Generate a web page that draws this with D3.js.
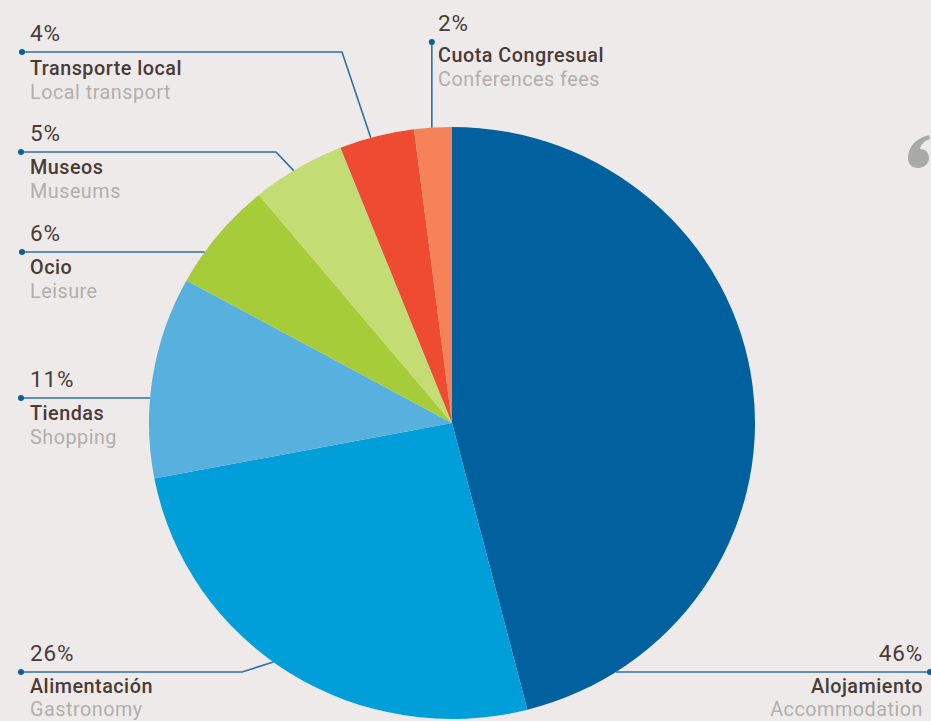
<!DOCTYPE html>
<html>
<head>
<meta charset="utf-8">
<script src="https://cdn.jsdelivr.net/npm/d3@7/dist/d3.min.js"></script>
<style>
  html, body { margin: 0; padding: 0; background: #edeae9; overflow: hidden; }
  svg { display: block; }
  text { font-family: Roboto, "Open Sans", sans-serif; }
</style>
</head>
<body>
<svg id="chart" width="931" height="721"></svg>
<script>
// Spending breakdown (percent of total), clockwise from 12 o'clock
const categories = ["Alojamiento", "Alimentación", "Tiendas", "Ocio", "Museos", "Transporte local", "Cuota Congresual"];
const categoriesEn = ["Accommodation", "Gastronomy", "Shopping", "Leisure", "Museums", "Local transport", "Conferences fees"];
const values = [46, 26, 11, 6, 5, 4, 2];
const colors = ["#00619e", "#009fd9", "#58b0df", "#a6cd39", "#c3dc73", "#ef4a32", "#f58259"];

const W = 931, H = 721;
const cx = 452, cy = 423;
const ry = 296, rx = 303;   // pie is drawn slightly wider than tall

const svg = d3.select("#chart");

const pie = d3.pie().sort(null).value(d => d.value);
const arcs = pie(values.map((v, i) => ({ value: v, i })));
const arc = d3.arc().innerRadius(0).outerRadius(ry);

const pieG = svg.append("g")
  .attr("transform", `translate(${cx},${cy}) scale(${rx / ry},1)`);

pieG.selectAll("path")
  .data(arcs)
  .join("path")
  .attr("d", arc)
  .attr("fill", d => colors[d.data.i]);

// point on the pie rim at a given angle (radians, clockwise from north)
function rim(a) {
  return [cx + rx * Math.sin(a), cy - ry * Math.cos(a)];
}
// x on the rim for a horizontal line at y, left or right side
function rimX(y, side) {
  const t = (y - cy) / ry;
  return cx + side * rx * Math.sqrt(Math.max(0, 1 - t * t));
}

// Label layout: line y, dot x, text x, anchor, text offsets, and how the leader meets the pie
const layout = [
  { i: 0, lineY: 672, dotX: 930, textX: 923, anchor: "end",   mode: "h", side: 1, nameDy: 21, enDy: 22.5 },
  { i: 1, lineY: 672, dotX: 21,  textX: 30,  anchor: "start", mode: "elbow", elbowX: 242, frac: 0.54, nameDy: 21, enDy: 22.5 },
  { i: 2, lineY: 398, dotX: 21,  textX: 30,  anchor: "start", mode: "h", side: -1, nameDy: 22, enDy: 23.5 },
  { i: 3, lineY: 252, dotX: 22,  textX: 30,  anchor: "start", mode: "h", side: -1, nameDy: 22, enDy: 23.5 },
  { i: 4, lineY: 152, dotX: 21,  textX: 30,  anchor: "start", mode: "elbow", elbowX: 276, frac: 0.45, nameDy: 22, enDy: 23.5 },
  { i: 5, lineY: 52,  dotX: 22,  textX: 30,  anchor: "start", mode: "elbow", elbowX: 342, frac: 0.42, nameDy: 23, enDy: 23.5 },
  { i: 6, lineY: 42,  dotX: null, textX: 438, anchor: "start", mode: "v", frac: 0.47, nameDy: 20, enDy: 23.5 }
];

const lineColor = "#2f6fa7";
const leaders = svg.append("g");
const labels = svg.append("g");

layout.forEach(L => {
  const a = arcs[L.i];
  let pts, dot;
  if (L.mode === "h") {
    const x = rimX(L.lineY, L.side);
    pts = [[L.dotX, L.lineY], [x, L.lineY]];
    dot = [L.dotX, L.lineY];
  } else if (L.mode === "elbow") {
    const ang = a.startAngle + L.frac * (a.endAngle - a.startAngle);
    pts = [[L.dotX, L.lineY], [L.elbowX, L.lineY], rim(ang)];
    dot = [L.dotX, L.lineY];
  } else {
    const ang = a.startAngle + L.frac * (a.endAngle - a.startAngle);
    const p = rim(ang);
    pts = [[p[0], L.lineY], p];
    dot = [p[0], L.lineY];
  }
  leaders.append("path")
    .attr("d", d3.line()(pts))
    .attr("fill", "none")
    .attr("stroke", lineColor)
    .attr("stroke-width", 1.6);
  leaders.append("circle")
    .attr("cx", dot[0]).attr("cy", dot[1]).attr("r", 3)
    .attr("fill", "#0d5f9c");

  const pctY = L.lineY - 11;
  const nameY = L.lineY + L.nameDy;
  const enY = nameY + L.enDy;

  labels.append("text")
    .attr("x", L.textX).attr("y", pctY)
    .attr("text-anchor", L.anchor)
    .attr("font-size", 22.5).attr("letter-spacing", 0.8).attr("fill", "#4a3b36")
    .text(values[L.i] + "%");
  labels.append("text")
    .attr("x", L.textX).attr("y", nameY)
    .attr("text-anchor", L.anchor)
    .attr("font-size", 19.8).attr("font-weight", 500).attr("letter-spacing", 0.5)
    .attr("fill", "#4a3b36")
    .text(categories[L.i]);
  labels.append("text")
    .attr("x", L.textX).attr("y", enY)
    .attr("text-anchor", L.anchor)
    .attr("font-size", 19.8).attr("letter-spacing", 0.5).attr("fill", "#b2afad")
    .text(categoriesEn[L.i]);
});

// decorative opening-quote ornament near the right edge
const q = d3.path();
q.moveTo(929, 135);
q.bezierCurveTo(916, 138, 908, 147, 908, 158);
q.bezierCurveTo(908, 164, 912, 168, 918, 168);
q.bezierCurveTo(924, 168, 929, 164, 929, 158);
q.bezierCurveTo(929, 152, 925, 149, 920, 149);
q.bezierCurveTo(921, 144, 924, 141, 930, 139);
q.closePath();
svg.append("path")
  .attr("d", q.toString())
  .attr("fill", "#a9aaa7");
</script>
</body>
</html>
